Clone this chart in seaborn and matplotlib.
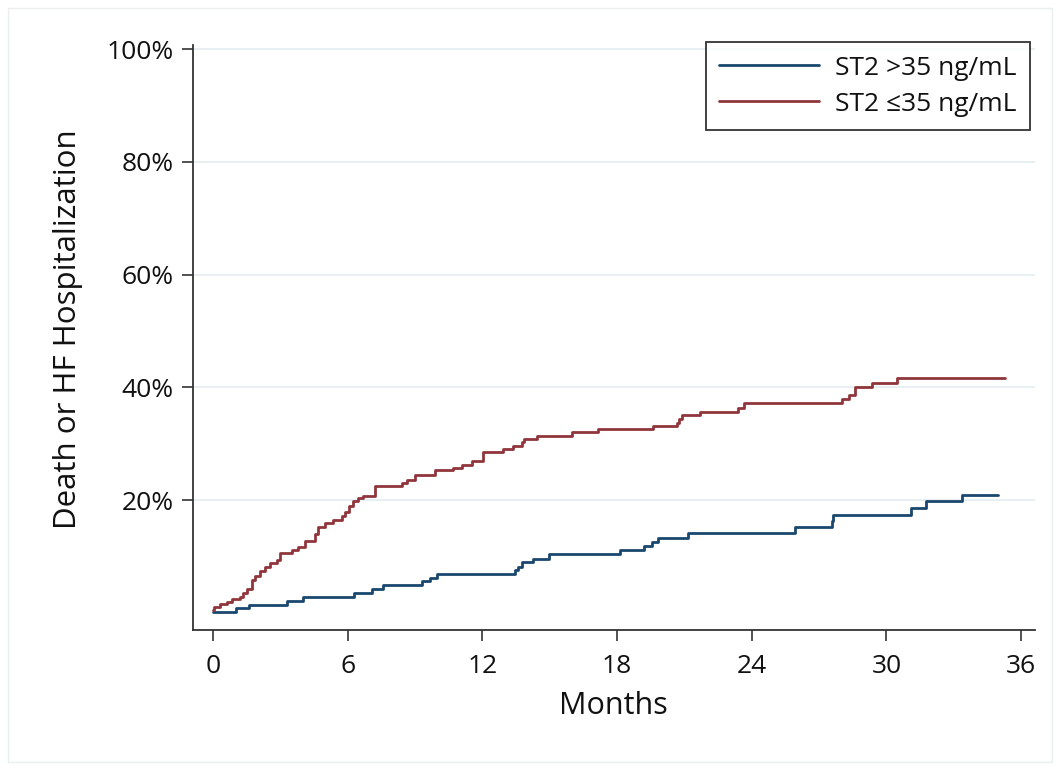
import matplotlib
matplotlib.use("Agg")
import matplotlib.pyplot as plt
from matplotlib.patches import Rectangle
import pandas as pd
import seaborn as sns

# cumulative incidence curves (months, %)
red_t = [0, 0.05, 0.31, 0.61, 0.83, 1.2, 1.35, 1.5, 1.72, 1.87, 2.09, 2.32, 2.54, 2.84, 2.98,
         3.5, 3.8, 4.1, 4.55, 4.69, 4.99, 5.36, 5.73, 5.88, 6.07, 6.25, 6.47, 6.7, 7.2, 8.4,
         8.63, 9.0, 9.89, 10.7, 11.08, 11.52, 12.04, 12.93, 13.35, 13.75, 13.85, 14.42, 15.98,
         17.16, 19.61, 20.65, 20.76, 20.9, 21.69, 23.4, 23.65, 28.0, 28.34, 28.6, 29.34, 30.45,
         35.28]
red_v = [0.5, 1.1, 1.6, 2.0, 2.4, 2.9, 3.5, 4.2, 5.9, 6.6, 7.5, 8.2, 8.8, 9.4, 10.7,
         11.1, 11.7, 12.7, 14.0, 15.3, 15.9, 16.5, 17.2, 18.0, 18.9, 19.8, 20.4, 20.8, 22.5, 23.1,
         23.6, 24.5, 25.3, 25.7, 26.3, 26.9, 28.5, 29.1, 29.7, 30.3, 30.8, 31.4, 32.1,
         32.7, 33.2, 33.7, 34.4, 35.1, 35.7, 36.4, 37.2, 37.9, 38.6, 40.1, 40.8, 41.6,
         41.6]

blue_t = [0, 1.02, 1.62, 3.28, 4.02, 6.28, 7.07, 7.59, 9.3, 9.67, 9.99, 13.45, 13.6, 13.75,
          14.24, 14.98, 18.13, 19.2, 19.54, 19.84, 21.17, 25.92, 27.56, 27.63, 31.09, 31.76,
          33.38, 34.98]
blue_v = [0.2, 0.8, 1.4, 2.2, 2.8, 3.5, 4.2, 4.9, 5.6, 6.2, 6.9, 7.6, 8.2, 9.0,
          9.6, 10.5, 11.1, 11.8, 12.6, 13.3, 14.2, 15.2, 16.4, 17.4, 18.6, 19.8,
          21.0, 21.0]

labels = ["ST2 >35 ng/mL", "ST2 \u226435 ng/mL"]
x_ticks = [0, 6, 12, 18, 24, 30, 36]
y_ticks = [20, 40, 60, 80, 100]

BLUE = "#1a476f"
RED = "#90353b"
GRID = "#e6eef1"
INK = "#111111"

sns.set_style("white")
plt.rcParams["font.family"] = ["Open Sans", "DejaVu Sans"]
plt.rcParams["text.color"] = INK
plt.rcParams["axes.labelcolor"] = INK
plt.rcParams["xtick.color"] = INK
plt.rcParams["ytick.color"] = INK

df = pd.concat([
    pd.DataFrame({"t": blue_t, "v": blue_v, "grp": labels[0]}),
    pd.DataFrame({"t": red_t, "v": red_v, "grp": labels[1]}),
])

fig = plt.figure(figsize=(10.6, 7.71), dpi=100)
ax = fig.add_axes([0.182, 0.183, 0.794, 0.759])

sns.lineplot(data=df, x="t", y="v", hue="grp", palette=[BLUE, RED],
             drawstyle="steps-post", estimator=None, sort=False,
             linewidth=2, ax=ax)

for y in y_ticks:
    ax.axhline(y, color=GRID, lw=1.3, zorder=0)

ax.set_xlim(-0.9, 36.6)
ax.set_ylim(-3, 100.8)
ax.set_xticks(x_ticks)
ax.set_yticks(y_ticks)
ax.set_yticklabels([f"{y}%" for y in y_ticks])
ax.tick_params(axis="both", direction="out", length=8, width=1.2, labelsize=19,
               color="#333333", left=True, bottom=True)
ax.tick_params(axis="y", pad=6)
ax.tick_params(axis="x", pad=9)
ax.set_xlabel("Months", fontsize=22, labelpad=9)
ax.set_ylabel("Death or HF Hospitalization", fontsize=22.5, labelpad=17)
ax.yaxis.label.set_y(0.514)

sns.despine(ax=ax)
for s in ["left", "bottom"]:
    ax.spines[s].set_color("#333333")
    ax.spines[s].set_linewidth(1.3)

leg = ax.legend(loc="upper right", fontsize=19, frameon=True, fancybox=False,
                handlelength=3.8, handletextpad=0.6, borderpad=0.5, labelspacing=0.42,
                borderaxespad=0, bbox_to_anchor=(0.994, 1.004), title=None)
leg.get_frame().set_edgecolor("black")
leg.get_frame().set_linewidth(1.3)

fig.patches.append(Rectangle((0.008, 0.012), 0.984, 0.978, transform=fig.transFigure,
                             fill=False, edgecolor="#eaeeef", lw=1))

fig.savefig("out.png", dpi=100, facecolor="white")
